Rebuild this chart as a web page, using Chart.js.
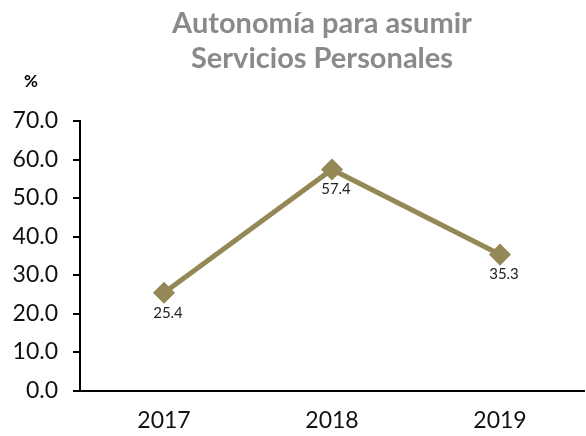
<!DOCTYPE html>
<html>
<head>
<meta charset="utf-8">
<script src="https://cdn.jsdelivr.net/npm/chart.js@4"></script>
<style>
  body { margin: 0; background: #fff; }
  #wrap { width: 586px; height: 436px; }
</style>
</head>
<body>
<div id="wrap"><canvas id="myChart" width="586" height="436"></canvas></div>
<script>
var years = ["2017", "2018", "2019"];
var autonomia = [25.4, 57.4, 35.3];
var yTicks = [0, 10, 20, 30, 40, 50, 60, 70];
var titleLines = ["Autonomía para asumir", "Servicios Personales"];
var unitLabel = "%";

// title, unit and the value labels under each point
var extras = {
  id: "extras",
  afterDatasetsDraw: function (chart) {
    var ctx = chart.ctx;
    var meta = chart.getDatasetMeta(0);
    ctx.save();
    ctx.textAlign = "center";
    ctx.textBaseline = "alphabetic";
    ctx.fillStyle = "#8a8a8c";
    ctx.font = "bold 29px Lato";
    ctx.fillText(titleLines[0], 322, 33);
    ctx.fillText(titleLines[1], 322, 68);
    ctx.fillStyle = "#000";
    ctx.font = "bold 17px Lato";
    ctx.fillText(unitLabel, 31, 87);
    ctx.font = "15px Lato";
    ctx.fillStyle = "#222";
    ctx.textBaseline = "middle";
    meta.data.forEach(function (pt, i) {
      ctx.fillText(autonomia[i].toFixed(1), pt.x + 4, pt.y + 20);
    });
    ctx.restore();
  }
};

new Chart("myChart", {
  type: "line",
  data: {
    labels: years,
    datasets: [{
      data: autonomia,
      borderColor: "#938856",
      backgroundColor: "#938856",
      borderWidth: 5,
      pointStyle: "rectRot",
      pointRadius: 7.5,
      pointHoverRadius: 7.5,
      fill: false,
      tension: 0
    }]
  },
  options: {
    responsive: false,
    animation: false,
    layout: { autoPadding: false, padding: { left: 12, right: 2, top: 121, bottom: 2 } },
    plugins: {
      legend: { display: false },
      tooltip: { enabled: false }
    },
    scales: {
      x: {
        offset: true,
        afterFit: function (scale) {
          scale.height = 43.5;
          scale.paddingLeft = 0;
          scale.paddingRight = 0;
        },
        grid: { display: true, drawOnChartArea: false, drawTicks: false },
        border: { color: "#000", width: 2 },
        ticks: { color: "#111", font: { family: "Lato", size: 23 }, padding: 16, maxRotation: 0 }
      },
      y: {
        min: 0,
        max: 70,
        afterBuildTicks: function (axis) {
          axis.ticks = yTicks.map(function (v) { return { value: v }; });
        },
        afterFit: function (scale) {
          scale.width = 68;
        },
        grid: { display: true, drawOnChartArea: false, tickLength: 7, color: "#000", lineWidth: 2 },
        border: { color: "#000", width: 2 },
        ticks: {
          color: "#111",
          font: { family: "Lato", size: 23 },
          padding: 15,
          callback: function (v) { return Number(v).toFixed(1); }
        }
      }
    }
  },
  plugins: [extras]
});
</script>
</body>
</html>
